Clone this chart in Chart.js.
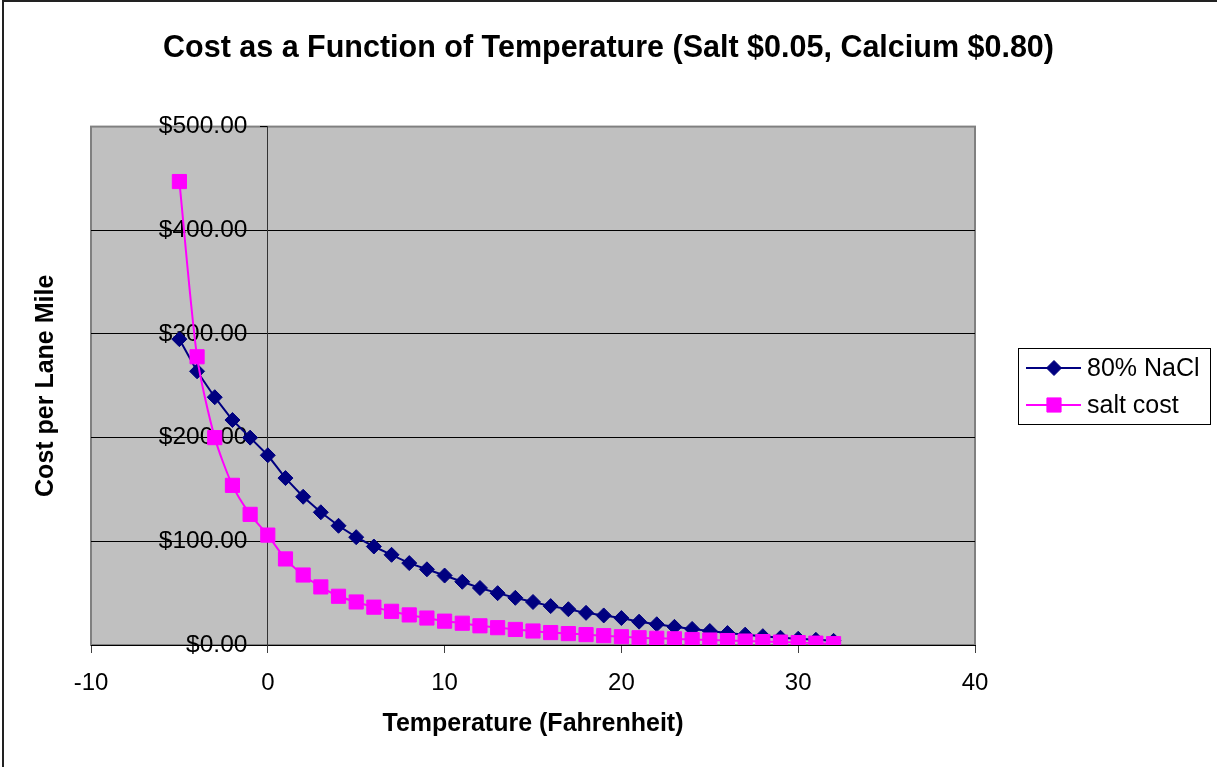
<!DOCTYPE html>
<html>
<head>
<meta charset="utf-8">
<script src="https://cdn.jsdelivr.net/npm/chart.js"></script>
<style>
  html, body { margin: 0; padding: 0; background: #fff; }
</style>
</head>
<body>
<canvas id="costChart" width="1217" height="767"></canvas>
<script>
// temperatures (F)
const temps = [-5, -4, -3, -2, -1, 0, 1, 2, 3, 4, 5, 6, 7, 8, 9, 10, 11, 12, 13, 14, 15,
  16, 17, 18, 19, 20, 21, 22, 23, 24, 25, 26, 27, 28, 29, 30, 31, 32];

// 80% NaCl cost per lane mile
const naclCost = [295, 264, 239, 217, 200, 183, 161, 143, 128, 115, 104, 95, 87, 79, 73, 67,
  61, 55, 50, 45.5, 41.5, 37.5, 34.5, 31, 28.5, 26, 22.5, 20, 17.5, 15.5, 13.5, 11.5, 10,
  8.5, 7, 6, 5, 4];

// salt cost per lane mile
const saltCost = [447, 278, 200, 154, 126, 106, 83, 67.5, 56, 47, 41.5, 36.5, 32.5, 29, 26, 23,
  21, 18.5, 16.7, 15, 13.5, 12, 11, 10, 9, 8, 7, 6.5, 6, 5.3, 4.8, 4.3, 3.8, 3.3, 2.8, 2.3,
  1.8, 1.3];

const xTicks = [-10, 0, 10, 20, 30, 40];
const yTicks = [0, 100, 200, 300, 400, 500];

const seriesNames = ['80% NaCl', 'salt cost'];

Chart.defaults.font.family = "'Liberation Sans', Arial, sans-serif";
Chart.defaults.color = '#000';

const toPoints = (values) => temps.map((t, i) => ({ x: t, y: values[i] }));

// grey plot area + outer frame
const plotBackground = {
  id: 'plotBackground',
  beforeDraw(chart) {
    const { ctx, chartArea } = chart;
    ctx.save();
    ctx.strokeStyle = '#222';
    ctx.lineWidth = 2;
    ctx.beginPath();
    ctx.moveTo(3, chart.height);
    ctx.lineTo(3, 1);
    ctx.lineTo(chart.width, 1);
    ctx.stroke();
    ctx.fillStyle = '#C0C0C0';
    ctx.fillRect(chartArea.left, chartArea.top, chartArea.width, chartArea.height);
    ctx.strokeStyle = '#808080';
    ctx.lineWidth = 2;
    ctx.strokeRect(chartArea.left, chartArea.top, chartArea.width, chartArea.height);
    ctx.restore();
  }
};

// boxed legend on the right
const boxLegend = {
  id: 'boxLegend',
  afterDraw(chart) {
    const { ctx, chartArea } = chart;
    const x0 = chartArea.right + 43;
    const y0 = 348;
    ctx.save();
    ctx.fillStyle = '#fff';
    ctx.fillRect(x0, y0, 192, 76);
    ctx.strokeStyle = '#000';
    ctx.lineWidth = 1;
    ctx.strokeRect(x0 + 0.5, y0 + 0.5, 192, 76);

    chart.data.datasets.forEach((ds, i) => {
      const y = y0 + 20 + i * 37;
      ctx.strokeStyle = ds.borderColor;
      ctx.lineWidth = 2;
      ctx.beginPath();
      ctx.moveTo(x0 + 8, y);
      ctx.lineTo(x0 + 63, y);
      ctx.stroke();
      ctx.fillStyle = ds.pointBackgroundColor;
      ctx.lineWidth = 1;
      Chart.helpers.drawPoint(ctx, {
        pointStyle: ds.pointStyle, radius: ds.pointRadius, rotation: 0, borderWidth: 1
      }, x0 + 36, y);
      ctx.fillStyle = '#000';
      ctx.font = "25px 'Liberation Sans', Arial, sans-serif";
      ctx.textBaseline = 'middle';
      ctx.textAlign = 'left';
      ctx.fillText(ds.label, x0 + 69, y + 1);
    });
    ctx.restore();
  }
};

new Chart(document.getElementById('costChart'), {
  type: 'line',
  data: {
    datasets: [{
      label: seriesNames[0],
      data: toPoints(naclCost),
      borderColor: '#000080',
      backgroundColor: '#000080',
      pointBackgroundColor: '#000080',
      pointBorderColor: '#000080',
      pointStyle: 'rectRot',
      pointRadius: 7.5,
      pointBorderWidth: 1,
      borderWidth: 2,
      tension: 0,
      order: 1
    }, {
      label: seriesNames[1],
      data: toPoints(saltCost),
      borderColor: '#FF00FF',
      backgroundColor: '#FF00FF',
      pointBackgroundColor: '#FF00FF',
      pointBorderColor: '#FF00FF',
      pointStyle: 'rect',
      pointRadius: 10,
      pointBorderWidth: 1,
      borderWidth: 2,
      tension: 0.25,
      order: 0
    }]
  },
  options: {
    responsive: false,
    devicePixelRatio: 1,
    animation: false,
    layout: { padding: 0 },
    plugins: {
      legend: { display: false },
      tooltip: { enabled: false },
      title: {
        display: true,
        text: 'Cost as a Function of Temperature (Salt $0.05, Calcium $0.80)',
        font: { size: 30.5, weight: 'bold' },
        color: '#000',
        padding: { top: 30, bottom: 60 }
      }
    },
    scales: {
      x: {
        type: 'linear',
        position: 'bottom',
        min: -10,
        max: 40,
        afterBuildTicks: (scale) => { scale.ticks = xTicks.map(v => ({ value: v })); },
        afterFit: (scale) => { scale.height = 122; },
        ticks: { font: { size: 24 }, color: '#000', padding: 16, maxRotation: 0 },
        grid: { drawOnChartArea: false, drawTicks: true, tickLength: 8, color: '#404040' },
        border: { color: '#000', width: 1 },
        title: {
          display: true,
          text: 'Temperature (Fahrenheit)',
          font: { size: 25, weight: 'bold' },
          color: '#000',
          padding: { top: 0, bottom: 28 }
        }
      },
      y: {
        type: 'linear',
        position: { x: 0 },
        min: 0,
        max: 500,
        afterBuildTicks: (scale) => { scale.ticks = yTicks.map(v => ({ value: v })); },
        ticks: {
          font: { size: 24.5 },
          color: '#000',
          // labels sit at the axis line, pad them off it
          callback: (v) => '$' + v.toFixed(2) + '   '
        },
        grid: {
          color: (c) => (c.tick && c.tick.value === 500 ? '#808080' : '#000'),
          tickColor: '#000',
          tickLength: 7,
          lineWidth: 1
        },
        border: { color: '#333', width: 1 }
      },
      yTitle: {
        type: 'linear',
        position: 'left',
        display: true,
        afterFit: (scale) => { scale.width = 91; },
        ticks: { display: false },
        grid: { display: false, drawTicks: false },
        border: { display: false },
        title: {
          display: true,
          text: 'Cost per Lane Mile',
          font: { size: 25, weight: 'bold' },
          color: '#000',
          padding: { top: 31, bottom: 0 }
        }
      },
      legendSpace: {
        type: 'linear',
        position: 'right',
        display: true,
        afterFit: (scale) => { scale.width = 242; },
        ticks: { display: false },
        grid: { display: false, drawTicks: false },
        border: { display: false }
      }
    }
  },
  plugins: [plotBackground, boxLegend]
});
</script>
</body>
</html>
